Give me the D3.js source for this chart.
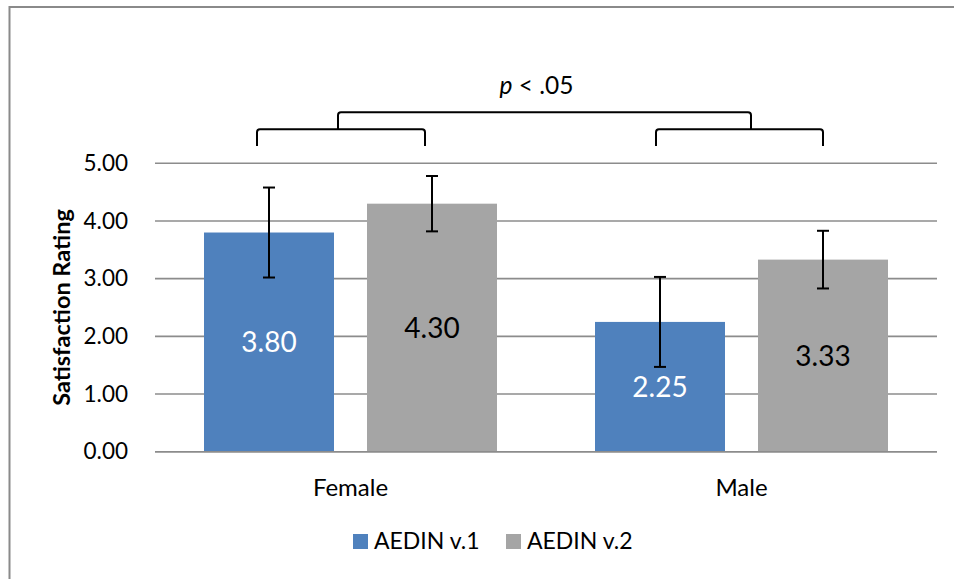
<!DOCTYPE html>
<html>
<head>
<meta charset="utf-8">
<script src="https://cdn.jsdelivr.net/npm/d3@7"></script>
<style>
  html, body { margin: 0; padding: 0; background: #fff; }
  svg { display: block; font-family: Lato, "Open Sans", sans-serif; }
</style>
</head>
<body>
<svg id="chart" width="954" height="579"></svg>
<script>
// Satisfaction ratings by gender for two AEDIN versions
const categories = ["Female", "Male"];
const seriesNames = ["AEDIN v.1", "AEDIN v.2"];
const v1Values = [3.80, 2.25];
const v2Values = [4.30, 3.33];
const v1Errors = [0.78, 0.78];
const v2Errors = [0.48, 0.50];
const yTicks = [0, 1, 2, 3, 4, 5];
const significanceLabel = ".05";

const colors = { "AEDIN v.1": "#4F81BD", "AEDIN v.2": "#A5A5A5" };
const labelColors = { "AEDIN v.1": "#ffffff", "AEDIN v.2": "#000000" };

const rows = categories.map((c, i) => ({
  category: c,
  bars: [
    { series: seriesNames[0], value: v1Values[i], err: v1Errors[i] },
    { series: seriesNames[1], value: v2Values[i], err: v2Errors[i] }
  ]
}));

const svg = d3.select("#chart");

// outer chart frame
svg.append("rect")
  .attr("x", 9.5).attr("y", 7)
  .attr("width", 1000).attr("height", 700)
  .attr("fill", "none").attr("stroke", "#8a8a8a").attr("stroke-width", 2);

const plot = { left: 155, right: 937, top: 163.3, bottom: 451.7 };

const x0 = d3.scaleBand().domain(categories).range([plot.left, plot.right]).padding(0);
const x1 = d3.scaleBand().domain(seriesNames).range([0, x0.bandwidth()])
  .paddingInner(0.2025).paddingOuter(0.3006);
const y = d3.scaleLinear().domain([0, 5]).range([plot.bottom, plot.top]);

// horizontal gridlines
svg.append("g").selectAll("line").data(yTicks).join("line")
  .attr("x1", plot.left).attr("x2", plot.right)
  .attr("y1", d => y(d)).attr("y2", d => y(d))
  .attr("stroke", "#8c8c8c").attr("stroke-width", 1.6);

// y axis tick labels
const yAxis = d3.axisLeft(y).tickValues(yTicks).tickFormat(d3.format(".2f")).tickSize(0).tickPadding(0);
const yg = svg.append("g").attr("transform", `translate(${plot.left - 27},0)`).call(yAxis);
yg.select(".domain").remove();
yg.selectAll("text").attr("font-size", 22.5).attr("fill", "#000").attr("font-family", "Lato, sans-serif");

// axis title
svg.append("text")
  .attr("transform", `translate(${70},${(plot.top + plot.bottom) / 2}) rotate(-90)`)
  .attr("text-anchor", "middle")
  .attr("font-size", 23.5).attr("font-weight", "bold").attr("fill", "#000")
  .text("Satisfaction Rating");

// bars
const groups = svg.append("g").selectAll("g").data(rows).join("g")
  .attr("transform", d => `translate(${x0(d.category)},0)`);

groups.selectAll("rect").data(d => d.bars).join("rect")
  .attr("x", d => x1(d.series))
  .attr("width", x1.bandwidth())
  .attr("y", d => y(d.value))
  .attr("height", d => y(0) - y(d.value))
  .attr("fill", d => colors[d.series]);

// value labels centred in each bar
groups.selectAll("text.val").data(d => d.bars).join("text")
  .attr("class", "val")
  .attr("x", d => x1(d.series) + x1.bandwidth() / 2)
  .attr("y", d => (y(d.value) + y(0)) / 2)
  .attr("dy", "0.36em")
  .attr("text-anchor", "middle")
  .attr("font-size", 28)
  .attr("fill", d => labelColors[d.series])
  .text(d => d.value.toFixed(2));

// error bars
const capHalf = 6;
const eb = groups.selectAll("g.err").data(d => d.bars).join("g").attr("class", "err")
  .attr("stroke", "#000").attr("stroke-width", 2);
eb.append("line")
  .attr("x1", d => x1(d.series) + x1.bandwidth() / 2)
  .attr("x2", d => x1(d.series) + x1.bandwidth() / 2)
  .attr("y1", d => y(d.value + d.err)).attr("y2", d => y(d.value - d.err));
eb.append("line")
  .attr("x1", d => x1(d.series) + x1.bandwidth() / 2 - capHalf)
  .attr("x2", d => x1(d.series) + x1.bandwidth() / 2 + capHalf)
  .attr("y1", d => y(d.value + d.err)).attr("y2", d => y(d.value + d.err));
eb.append("line")
  .attr("x1", d => x1(d.series) + x1.bandwidth() / 2 - capHalf)
  .attr("x2", d => x1(d.series) + x1.bandwidth() / 2 + capHalf)
  .attr("y1", d => y(d.value - d.err)).attr("y2", d => y(d.value - d.err));

// axis baseline
svg.append("line")
  .attr("x1", plot.left).attr("x2", plot.right)
  .attr("y1", y(0)).attr("y2", y(0))
  .attr("stroke", "#8c8c8c").attr("stroke-width", 1.6);

// category labels
svg.append("g").selectAll("text").data(categories).join("text")
  .attr("x", d => x0(d) + x0.bandwidth() / 2)
  .attr("y", 496)
  .attr("text-anchor", "middle")
  .attr("font-size", 24).attr("fill", "#000")
  .text(d => d);

// significance brackets: leg offsets relative to the bar centres, stem offset from left leg
const barCenter = (cat, s) => x0(cat) + x1(s) + x1.bandwidth() / 2;
const bracketOffsets = [
  { category: "Female", left: -12, right: -7, stem: 81 },
  { category: "Male", left: -4, right: 0, stem: 95 }
];
const legBottom = 146, bracketY = 129.3, topY = 112.3, r = 3;
const br = svg.append("g").attr("fill", "none").attr("stroke", "#000").attr("stroke-width", 2);
const stems = [];
bracketOffsets.forEach(b => {
  const xl = barCenter(b.category, seriesNames[0]) + b.left;
  const xr = barCenter(b.category, seriesNames[1]) + b.right;
  const p = d3.path();
  p.moveTo(xl, legBottom);
  p.lineTo(xl, bracketY + r);
  p.quadraticCurveTo(xl, bracketY, xl + r, bracketY);
  p.lineTo(xr - r, bracketY);
  p.quadraticCurveTo(xr, bracketY, xr, bracketY + r);
  p.lineTo(xr, legBottom);
  br.append("path").attr("d", p.toString());
  stems.push(xl + b.stem);
});
const tp = d3.path();
tp.moveTo(stems[0], bracketY);
tp.lineTo(stems[0], topY + r);
tp.quadraticCurveTo(stems[0], topY, stems[0] + r, topY);
tp.lineTo(stems[1] - r, topY);
tp.quadraticCurveTo(stems[1], topY, stems[1], topY + r);
tp.lineTo(stems[1], bracketY);
br.append("path").attr("d", tp.toString());

// significance label
const sig = svg.append("text")
  .attr("x", (stems[0] + stems[1]) / 2 - 8)
  .attr("y", 94)
  .attr("text-anchor", "middle")
  .attr("font-size", 24.5).attr("fill", "#000");
sig.append("tspan").attr("font-style", "italic").text("p");
sig.append("tspan").text(" < " + significanceLabel);

// legend
const legendX = [353, 506];
const legend = svg.append("g").selectAll("g").data(seriesNames).join("g")
  .attr("transform", (d, i) => `translate(${legendX[i]},534)`);
legend.append("rect").attr("width", 15).attr("height", 15).attr("fill", d => colors[d]);
legend.append("text").attr("x", 21).attr("y", 15)
  .attr("font-size", 23).attr("fill", "#000").text(d => d);
</script>
</body>
</html>
